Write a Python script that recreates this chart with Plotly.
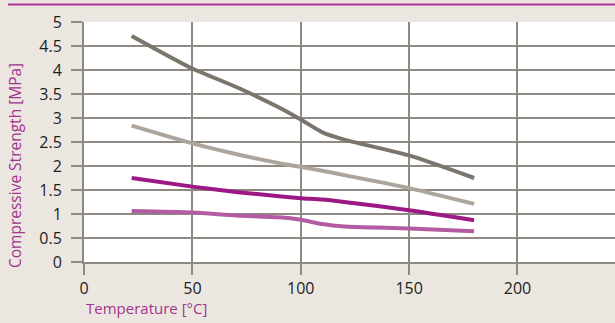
import plotly.graph_objects as go

temps = [22, 50, 70, 90, 100, 110, 120, 150, 180]
dark_gray = [4.71, 4.03, 3.65, 3.22, 2.97, 2.70, 2.55, 2.22, 1.75]
light_gray = [2.84, 2.47, 2.25, 2.06, 1.98, 1.90, 1.81, 1.54, 1.21]
dark_magenta = [1.75, 1.57, 1.46, 1.37, 1.33, 1.30, 1.25, 1.08, 0.87]
light_magenta = [1.06, 1.03, 0.97, 0.93, 0.88, 0.79, 0.74, 0.70, 0.64]

x_ticks = [0, 50, 100, 150, 200]
y_ticks = [0, 0.5, 1, 1.5, 2, 2.5, 3, 3.5, 4, 4.5, 5]
y_labels = ["0", "0.5", "1", "1.5", "2", "2.5", "3", "3.5", "4", "4.5", "5"]

series = [
    (dark_gray, "#7B756C"),
    (light_gray, "#ADA59B"),
    (dark_magenta, "#9C1884"),
    (light_magenta, "#B35CA3"),
]

fig = go.Figure()
for ys, col in series:
    fig.add_trace(go.Scatter(x=temps, y=ys, mode="lines",
                             line=dict(color=col, width=4, shape="spline", smoothing=0.6),
                             showlegend=False, hoverinfo="skip"))

W, H = 615, 323
L, R, T, B = 84, 0, 22, 61
grid = "#8E8983"
font = "Open Sans, DejaVu Sans, sans-serif"

fig.update_layout(
    width=W, height=H,
    margin=dict(l=L, r=R, t=T, b=B),
    paper_bgcolor="#EBE7E0",
    plot_bgcolor="#FFFFFF",
    font=dict(family=font, size=16, color="#222222"),
    xaxis=dict(range=[0, 245], tickvals=x_ticks, showgrid=True, gridcolor=grid, gridwidth=2,
               zeroline=False, showline=True, linecolor=grid, linewidth=2,
               ticks="outside", ticklen=11, tickcolor=grid, tickwidth=2,
               tickfont=dict(size=16, color="#222222")),
    yaxis=dict(range=[0, 5], tickvals=y_ticks, ticktext=y_labels, showgrid=True, gridcolor=grid,
               gridwidth=2, zeroline=False, showline=True, linecolor=grid, linewidth=2,
               ticks="outside", ticklen=11, tickcolor=grid, tickwidth=2,
               ticklabelstandoff=6,
               tickfont=dict(size=16, color="#222222")),
    shapes=[dict(type="line", xref="paper", yref="paper",
                 x0=(8 - L) / (W - L - R), x1=1.0,
                 y0=(H - B - 4.5) / (H - T - B), y1=(H - B - 4.5) / (H - T - B),
                 line=dict(color="#B0329A", width=2))],
    annotations=[
        dict(text="Temperature [°C]", xref="paper", yref="paper",
             x=0, y=(H - B - 308) / (H - T - B), xanchor="left", yanchor="middle",
             showarrow=False, font=dict(family=font, size=15, color="#A2338F")),
        dict(text="Compressive Strength [MPa]", xref="paper", yref="paper",
             x=(15 - L) / (W - L - R), y=(H - B - 166) / (H - T - B),
             xanchor="center", yanchor="middle", textangle=-90,
             showarrow=False, font=dict(family=font, size=15.5, color="#A2338F")),
    ],
)

fig.write_html("out.html", config={"displayModeBar": False},
               post_script="document.body.style.margin='0';document.body.style.overflow='hidden';")
